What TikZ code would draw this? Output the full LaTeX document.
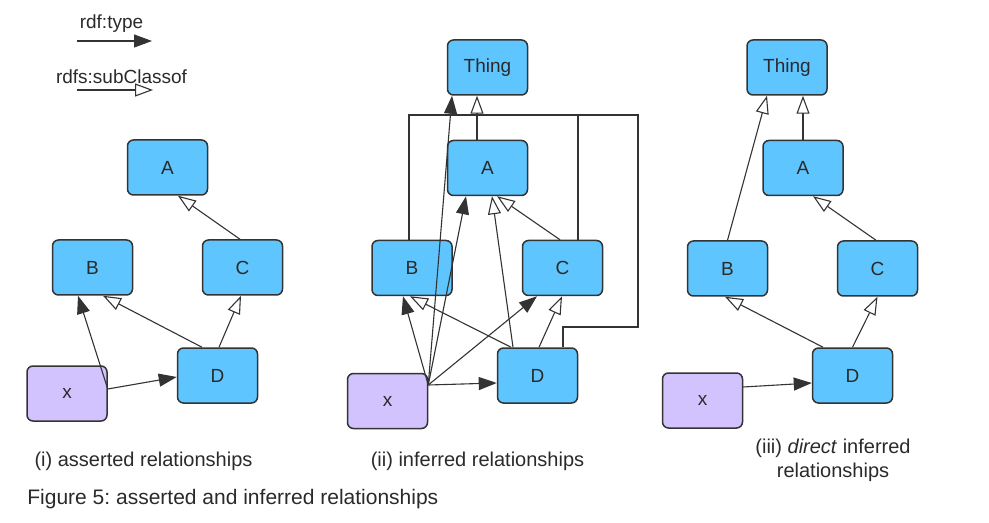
\documentclass[tikz,border=0pt]{standalone}
\usepackage{fontspec}
\setmainfont{Liberation Sans}
\usetikzlibrary{arrows.meta}
\definecolor{nodeblue}{HTML}{5FC5FF}
\definecolor{nodelilac}{HTML}{D2C3FF}
\definecolor{edgegray}{HTML}{333333}
\definecolor{txtgray}{HTML}{2A2A2A}
\frenchspacing
\begin{document}
\begin{tikzpicture}[x=0.5pt,y=-0.5pt,
  cls/.style={draw=edgegray,line width=0.75pt,rounded corners=3pt,fill=nodeblue,
    minimum width=40pt,minimum height=27.5pt,inner sep=0pt,text=txtgray,
    font=\fontsize{9.5}{11}\selectfont},
  ind/.style={cls,fill=nodelilac},
  conn/.style={draw=edgegray,line width=0.55pt},
  typ/.style={conn,-{Triangle[length=9pt,width=6.5pt]}},
  sub/.style={conn,-{Triangle[open,fill=white,length=9pt,width=6.5pt]}},
  captxt/.style={text=txtgray,font=\fontsize{10}{12}\selectfont,inner sep=0pt,align=center},
  lgd/.style={text=txtgray,font=\fontsize{9.5}{11}\selectfont,inner sep=0pt}
]
\useasboundingbox (0,0) rectangle (989,523);

% legend
\node[lgd] (ltype) at (111.5,24) {rdf:type};
\node[lgd] (lsub) at (121.5,77) {rdfs:subClassof};
\coordinate (l1s) at (77,41); \coordinate (l1e) at (152,41);
\coordinate (l2s) at (77,90); \coordinate (l2e) at (153,90);
\draw[typ] (l1s) -- (l1e);
\draw[sub] (l2s) -- (l2e);

% (i) asserted
\node[cls] (iA) at (167.5,167.5) {A};
\node[cls] (iB) at (92.5,267.5) {B};
\node[cls] (iC) at (242.5,267.5) {C};
\node[cls] (iD) at (217.5,375.5) {D};
\node[ind] (ix) at (67,393.5) {x};
\draw[sub] ([xshift=-1.25pt]iC.north) -- ([xshift=5.25pt]iA.south);
\draw[sub] ([xshift=-7.75pt]iD.north) -- ([xshift=5.25pt]iB.south);
\draw[sub] ([xshift=0.75pt]iD.north) -- ([xshift=-0.75pt]iC.south);
\draw[typ] ([yshift=2.25pt]ix.east) -- ([xshift=-7.25pt]iB.south);
\draw[typ] ([yshift=2.25pt]ix.east) -- ([yshift=-0.75pt]iD.west);
\node[captxt] (capi) at (143.5,461) {(i) asserted relationships};

% (ii) inferred
\node[cls] (iiT) at (487.5,67.5) {Thing};
\node[cls] (iiA) at (487.5,168) {A};
\node[cls] (iiB) at (412,268) {B};
\node[cls] (iiC) at (562.5,268) {C};
\node[cls] (iiD) at (537.5,375.5) {D};
\node[ind] (iix) at (387.5,401) {x};
\coordinate (j) at (477,115);
\coordinate (rk) at (638,327);
\draw[conn] ([xshift=-1.5pt]iiB.north) |- (j);
\draw[conn] ([xshift=7.75pt]iiC.north) |- (j);
\draw[conn] ([xshift=12.75pt]iiD.north) |- (rk) |- (j);
\draw[sub] ([xshift=-5.25pt]iiA.north) -- ([xshift=-5.25pt]iiT.south);
\coordinate (xo) at ([yshift=8pt]iix.east);
\draw[typ] (xo) -- ([xshift=-4.5pt]iiB.south);
\draw[typ] (xo) -- ([xshift=-17.75pt]iiT.south);
\draw[typ] (xo) -- ([xshift=-10.75pt]iiA.south);
\draw[typ] (xo) -- ([xshift=-12.75pt]iiC.south);
\draw[typ] (xo) -- ([yshift=-3.75pt]iiD.west);
\draw[sub] ([xshift=-12.25pt]iiD.north) -- ([xshift=2.25pt]iiA.south);
\draw[sub] ([xshift=-1.25pt]iiC.north) -- ([xshift=4.75pt]iiA.south);
\draw[sub] ([xshift=-13.25pt]iiD.north) -- ([xshift=-1pt]iiB.south);
\draw[sub] ([xshift=0.75pt]iiD.north) -- ([xshift=-0.25pt]iiC.south);
\node[captxt] (capii) at (477.5,461) {(ii) inferred relationships};

% (iii) direct inferred
\node[cls] (iiiT) at (787,67.5) {Thing};
\node[cls] (iiiA) at (803,168) {A};
\node[cls] (iiiB) at (727.5,268.5) {B};
\node[cls] (iiiC) at (877.5,268.5) {C};
\node[cls] (iiiD) at (852.5,375.5) {D};
\node[ind] (iiix) at (702.5,400.5) {x};
\draw[sub] (iiiB.north) -- ([xshift=-10pt]iiiT.south);
\draw[sub] (iiiA.north) -- ([xshift=8pt]iiiT.south);
\draw[sub] ([xshift=-0.75pt]iiiC.north) -- ([xshift=5pt]iiiA.south);
\draw[sub] ([xshift=-14.75pt]iiiD.north) -- ([xshift=-1.25pt]iiiB.south);
\draw[sub] (iiiD.north) -- (iiiC.south);
\draw[typ] ([yshift=6.75pt]iiix.east) -- ([yshift=-3.75pt]iiiD.west);
\node[captxt] (capiii) at (833,460) {(iii) \textit{direct} inferred\\relationships};

% figure caption
\node[captxt,anchor=west,font=\fontsize{10.5}{12.5}\selectfont] (fig) at (27,499) {Figure 5: asserted and inferred relationships};
\end{tikzpicture}
\end{document}
